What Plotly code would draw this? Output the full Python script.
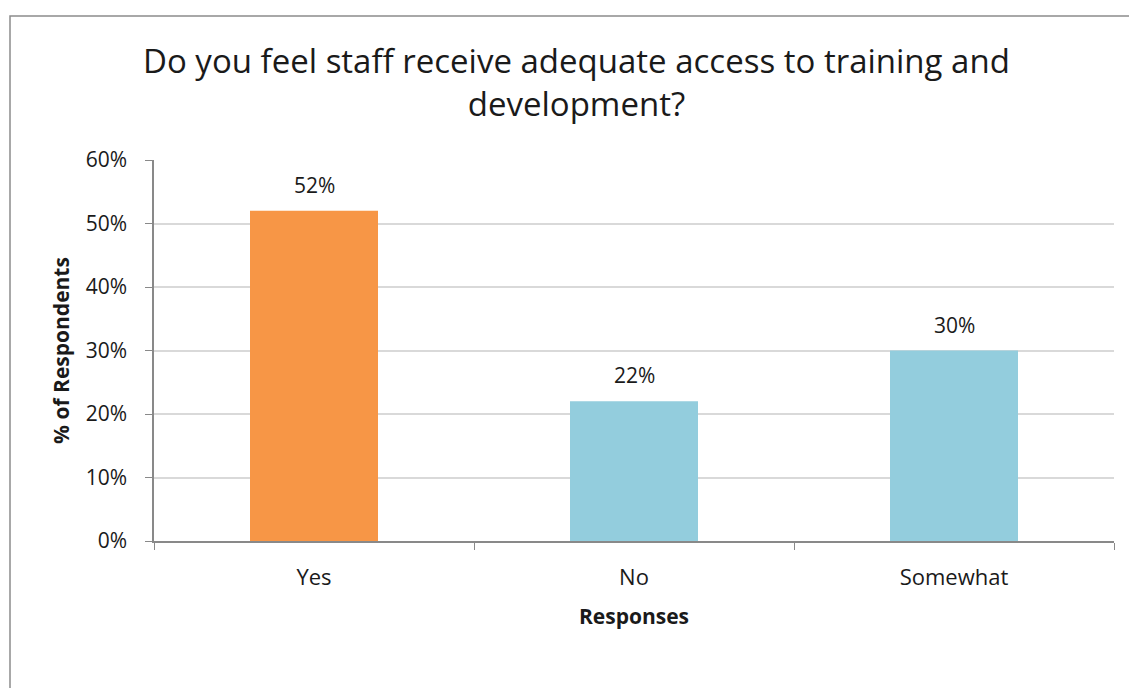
import plotly.graph_objects as go

# Survey responses
categories = ["Yes", "No", "Somewhat"]
percent_values = [52, 22, 30]
bar_colors = ["#F79646", "#93CDDD", "#93CDDD"]
y_tick_values = [0, 10, 20, 30, 40, 50, 60]
y_tick_labels = ["0%", "10%", "20%", "30%", "40%", "50%", "60%"]

FONT = "'Open Sans', Lato, sans-serif"
AXIS_GRAY = "#898989"
TEXT = "#1a1a1a"

fig = go.Figure(
    go.Bar(
        x=categories,
        y=percent_values,
        marker=dict(color=bar_colors, line=dict(width=0)),
        width=0.4,
        hoverinfo="x+y",
    )
)

# Value labels above each bar
for cat, val in zip(categories, percent_values):
    fig.add_annotation(
        x=cat, y=val, xref="x", yref="y",
        text=f"{val}%", showarrow=False,
        yanchor="bottom", yshift=10,
        font=dict(family=FONT, size=21, color=TEXT),
    )

# Chart title
fig.add_annotation(
    x=0.4406, y=1.205, xref="paper", yref="paper",
    text="Do you feel staff receive adequate access to training and<br>development?",
    showarrow=False, xanchor="center", yanchor="middle",
    font=dict(family=FONT, size=33, color=TEXT),
)

# Outer chart frame
fig.add_shape(
    type="rect", xref="paper", yref="paper",
    x0=-0.15, x1=1.2, y0=-0.6, y1=1.378,
    line=dict(color="#8c8c8c", width=1.5), fillcolor="rgba(0,0,0,0)",
    layer="below",
)

fig.update_layout(
    width=1129, height=688,
    margin=dict(l=154, r=15, t=160, b=147),
    paper_bgcolor="white", plot_bgcolor="white",
    showlegend=False,
    bargap=0.6,
    font=dict(family=FONT, color=TEXT),
    xaxis=dict(
        showline=True, linecolor=AXIS_GRAY, linewidth=1.5,
        ticks="outside", tickson="boundaries", ticklen=7, tickcolor=AXIS_GRAY,
        tickfont=dict(family=FONT, size=22, color=TEXT),
        ticklabelstandoff=16,
        title=dict(text="<b>Responses</b>", font=dict(family=FONT, size=21, color=TEXT), standoff=19),
        showgrid=False, zeroline=False,
    ),
    yaxis=dict(
        range=[0, 60],
        tickvals=y_tick_values, ticktext=y_tick_labels,
        showline=True, linecolor=AXIS_GRAY, linewidth=1.5,
        ticks="outside", ticklen=7, tickcolor=AXIS_GRAY,
        tickfont=dict(family=FONT, size=21, color=TEXT),
        ticklabelstandoff=14,
        showgrid=True, gridcolor="#d9d9d9", gridwidth=1.5,
        zeroline=False,
        title=dict(text="<b>% of Respondents</b>", font=dict(family=FONT, size=21, color=TEXT), standoff=10),
    ),
)

fig.write_html("out.html")
